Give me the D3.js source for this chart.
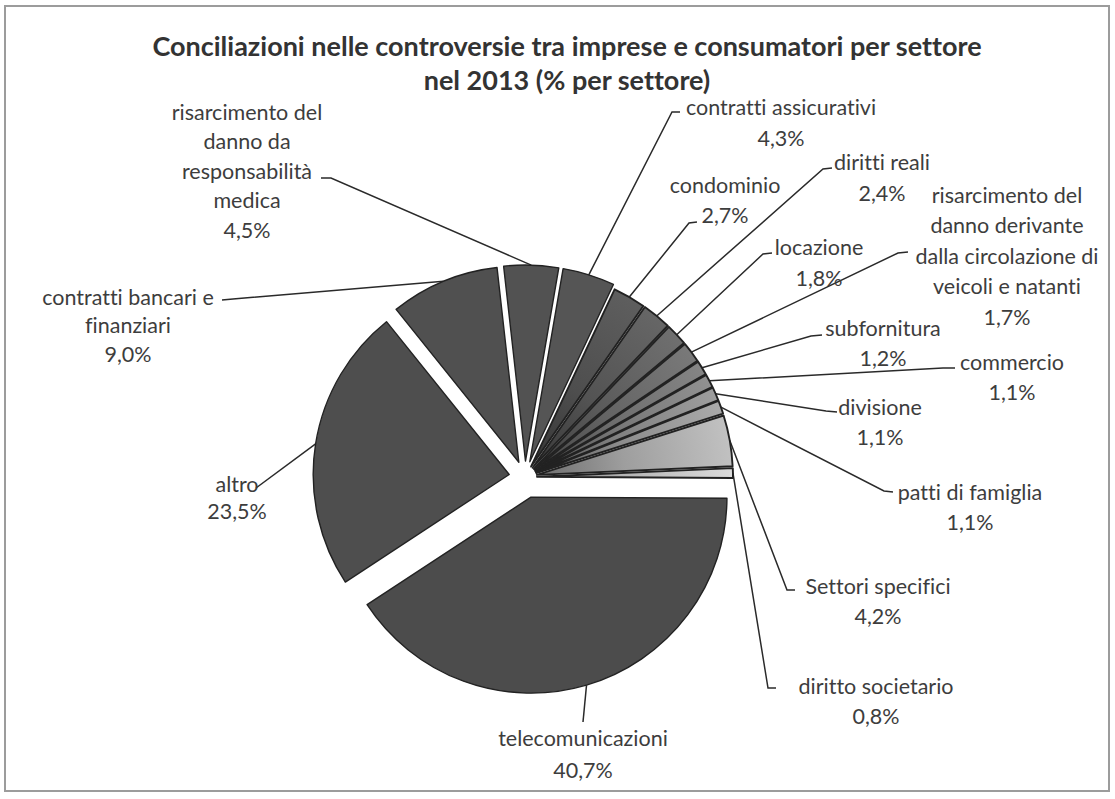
<!DOCTYPE html>
<html><head><meta charset="utf-8">
<script src="https://cdn.jsdelivr.net/npm/d3@7"></script>
<style>body{margin:0;background:#fff} svg{display:block} text{font-variant-ligatures:none;font-feature-settings:"liga" 0,"clig" 0}</style>
</head><body>
<svg id="c" width="1115" height="799"></svg>
<script>
// ---- data (clockwise from the slice just left of 12 o'clock) ----
const categories = [
  "risarcimento del danno da responsabilità medica",
  "contratti assicurativi",
  "condominio",
  "diritti reali",
  "locazione",
  "risarcimento del danno derivante dalla circolazione di veicoli e natanti",
  "subfornitura",
  "commercio",
  "divisione",
  "patti di famiglia",
  "Settori specifici",
  "diritto societario",
  "telecomunicazioni",
  "altro",
  "contratti bancari e finanziari"
];
const values = [4.5, 4.3, 2.7, 2.4, 1.8, 1.7, 1.2, 1.1, 1.1, 1.1, 4.2, 0.8, 40.7, 23.5, 9.0];
const labelLines = [
  ["risarcimento del", "danno da", "responsabilità", "medica"],
  ["contratti assicurativi"],
  ["condominio"],
  ["diritti reali"],
  ["locazione"],
  ["risarcimento del", "danno derivante", "dalla circolazione di", "veicoli e natanti"],
  ["subfornitura"],
  ["commercio"],
  ["divisione"],
  ["patti di famiglia"],
  ["Settori specifici"],
  ["diritto societario"],
  ["telecomunicazioni"],
  ["altro"],
  ["contratti bancari e", "finanziari"]
];
const titleLines = ["Conciliazioni nelle controversie tra imprese e consumatori per settore", "nel 2013 (% per settore)"];

// ---- style / layout ----
const fills = ["#525252","#555555","#5b5b5b","#626262","#6b6b6b","#757575","#808080","#8c8c8c","#989898","#a4a4a4","#bababa","#d4d4d4","#4c4c4c","#4e4e4e","#505050"];
const explode = [16,16,12,12,12,12,12,12,12,12,12,12,21,16,16];
const shaded = [false,false,true,true,true,true,true,true,true,true,true,true,false,false,false];
const labelPos = [
  {x:247, y:112, dy:29.5, lead:[[321,178],[331,178]]},
  {x:781, y:107, dy:31, lead:[[680,112],[672,112]]},
  {x:725, y:185, dy:30, lead:[[697,222],[689,223]]},
  {x:882, y:162, dy:31, lead:[[832,168],[823,169]]},
  {x:819, y:247, dy:31, lead:[[772,253],[763,254]]},
  {x:1007, y:195, dy:30.5, lead:[[908,252],[898,253]]},
  {x:883, y:328, dy:30, lead:[[822,335],[811,336]]},
  {x:1012, y:362, dy:30, lead:[[955,368],[943,368]]},
  {x:880, y:407, dy:30, lead:[[837,412],[826,411]]},
  {x:970, y:492, dy:30, lead:[[893,492],[884,491]]},
  {x:878, y:586, dy:30, lead:[[795,590],[787,590]]},
  {x:876, y:686, dy:30, lead:[[776,688],[768,688]]},
  {x:583, y:738, dy:32, lead:[[583,722]]},
  {x:237, y:484, dy:27, lead:[[256,488]]},
  {x:128, y:297, dy:28.5, lead:[[222,300],[233,299]]}
];
const cx = 525, cy = 477, R = 196;
const startDeg = -6.4;

const svg = d3.select("#c");
svg.append("rect").attr("width",1115).attr("height",799).attr("fill","#ffffff");
svg.append("rect").attr("x",5).attr("y",6).attr("width",1104).attr("height",785)
  .attr("fill","none").attr("stroke","#9c9c9c").attr("stroke-width",2);

// title
svg.append("g").selectAll("text").data(titleLines).join("text")
  .attr("x",567).attr("y",(d,i)=>47+i*34).attr("dy","0.35em")
  .attr("text-anchor","middle")
  .attr("font-family","Lato, 'Open Sans', sans-serif").attr("font-weight","bold")
  .attr("font-size",27).attr("fill","#333333").text(d=>d);

const pie = d3.pie().sort(null).value(d=>d)
  .startAngle(startDeg*Math.PI/180).endAngle(startDeg*Math.PI/180 + 2*Math.PI);
const arcs = pie(values);
const arc = d3.arc().innerRadius(0).outerRadius(R);

const apex = (d,i) => {
  const m = (d.startAngle+d.endAngle)/2;
  return [cx + explode[i]*Math.sin(m), cy - explode[i]*Math.cos(m)];
};
const edge = (d,i) => {
  const m = (d.startAngle+d.endAngle)/2, a = apex(d,i);
  return [a[0] + R*Math.sin(m), a[1] - R*Math.cos(m)];
};

const defs = svg.append("defs");
arcs.forEach((d,i)=>{
  if(!shaded[i]) return;
  const g = defs.append("radialGradient").attr("id","g"+i)
    .attr("gradientUnits","userSpaceOnUse").attr("cx",0).attr("cy",0).attr("r",R);
  g.append("stop").attr("offset",0).attr("stop-color",d3.color(fills[i]).darker(1.5));
  g.append("stop").attr("offset",0.45).attr("stop-color",d3.color(fills[i]).darker(0.45));
  g.append("stop").attr("offset",1).attr("stop-color",d3.color(fills[i]).brighter(0.1));
});

// leader lines (drawn below slices)
const leaders = svg.append("g");
arcs.forEach((d,i)=>{
  const pts = labelPos[i].lead.concat([edge(d,i)]);
  leaders.append("path").attr("d", d3.line()(pts))
    .attr("fill","none").attr("stroke","#2a2a2a").attr("stroke-width",1.5);
});

// slices
svg.append("g").selectAll("path").data(arcs).join("path")
  .attr("transform",(d,i)=>`translate(${apex(d,i)})`)
  .attr("d",arc)
  .attr("fill",(d,i)=> shaded[i] ? `url(#g${i})` : fills[i])
  .attr("stroke","#222222").attr("stroke-width",(d,i)=> shaded[i] ? 1.9 : 1.4)
  .attr("stroke-linejoin","round");

// labels
const fmt = v => d3.format(".1f")(v).replace(".", ",") + "%";
const lg = svg.append("g").attr("font-family","Lato, 'Open Sans', sans-serif")
  .attr("font-size",21.5).attr("fill","#3d3d3d").attr("text-anchor","middle");
arcs.forEach((d,i)=>{
  const lines = labelLines[i].concat([fmt(values[i])]);
  const p = labelPos[i];
  lines.forEach((t,k)=>{
    lg.append("text").attr("x",p.x).attr("y",p.y + k*p.dy).attr("dy","0.35em").text(t);
  });
});
</script>
</body></html>
